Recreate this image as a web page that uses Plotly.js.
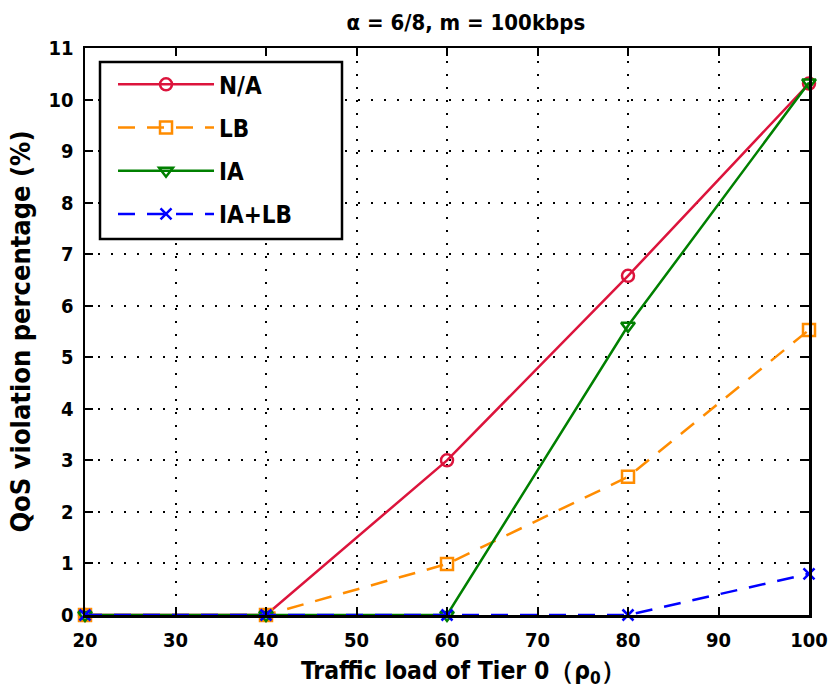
<!DOCTYPE html>
<html>
<head>
<meta charset="utf-8">
<script src="https://cdn.plot.ly/plotly-3.0.1.min.js"></script>
<style>html,body{margin:0;padding:0;background:#fff;}#chart{width:839px;height:696px;}</style>
</head>
<body>
<div id="chart"></div>
<script>
const load = [20, 40, 60, 80, 100];
const seriesNames = ["N/A", "LB", "IA", "IA+LB"];
const valNA = [0, 0, 3.0, 6.58, 10.31];
const valLB = [0, 0, 0.99, 2.68, 5.53];
const valIA = [0, 0, 0, 5.61, 10.33];
const valIALB = [0, 0, 0, 0, 0.80];
const xTicks = [20, 30, 40, 50, 60, 70, 80, 90, 100];
const yTicks = [0, 1, 2, 3, 4, 5, 6, 7, 8, 9, 10, 11];

const FONT = '"DejaVu Sans Condensed", "Liberation Sans Narrow", "Liberation Sans", Arial, sans-serif';
const styles = [
  {color: 'rgb(220,20,60)', dash: 'solid', symbol: 'circle-open', size: 12},
  {color: 'rgb(255,140,0)', dash: '17px,12px', symbol: 'square-open', size: 12},
  {color: 'rgb(0,128,0)', dash: 'solid', symbol: 'triangle-down-open', size: 12},
  {color: 'rgb(0,0,255)', dash: '17px,12px', symbol: 'x-thin-open', size: 11}
];
const vals = [valNA, valLB, valIA, valIALB];
const traces = vals.map((v, i) => ({
  x: load, y: v, name: seriesNames[i], type: 'scatter', mode: 'lines+markers',
  legendgroup: 'g' + i,
  line: {color: styles[i].color, dash: styles[i].dash, width: 2.5},
  marker: {symbol: styles[i].symbol, size: styles[i].size, color: styles[i].color,
           line: {color: styles[i].color, width: 2.5}},
  cliponaxis: false
}));

const axisCommon = {
  showline: true, linecolor: 'black', linewidth: 2.5, mirror: 'ticks',
  ticks: 'inside', ticklen: 8, tickwidth: 2, tickcolor: 'black',
  showgrid: true, gridcolor: 'black', griddash: '2px,11px', gridwidth: 2,
  zeroline: false, ticklabelstandoff: 5,
  tickfont: {family: FONT, size: 20, color: 'black', weight: 'bold'}
};

const layout = {
  width: 839, height: 696,
  margin: {l: 85, r: 30, t: 48, b: 81},
  paper_bgcolor: 'white', plot_bgcolor: 'white',
  title: {text: '<b>α = 6/8, m = 100kbps</b>', x: 0.526, xref: 'paper', xanchor: 'center',
          y: 0.968, yanchor: 'middle',
          font: {family: FONT, size: 22, color: 'black'}},
  xaxis: Object.assign({}, axisCommon, {
    range: [20, 100], tickvals: xTicks, ticktext: xTicks.map(String)
  }),
  yaxis: Object.assign({}, axisCommon, {
    range: [0, 11], tickvals: yTicks, ticktext: yTicks.map(String),
    title: {text: '<b>QoS violation percentage (%)</b>', standoff: 10,
            font: {family: FONT, size: 27, color: 'black'}}
  }),
  annotations: [{
    text: '<b>Traffic load of Tier 0（ρ<sub>0</sub>）</b>', xref: 'paper', yref: 'paper',
    x: 0.523, y: -0.1, xanchor: 'center', yanchor: 'middle', showarrow: false,
    font: {family: FONT, size: 24.5, color: 'black'}
  }],
  shapes: [{
    type: 'rect', xref: 'paper', yref: 'paper', layer: 'above',
    x0: (100 - 85) / 724, x1: (342 - 85) / 724,
    y0: (615 - 239) / 567, y1: (615 - 62) / 567,
    fillcolor: 'white', line: {color: 'black', width: 2.5}
  }],
  showlegend: true,
  legend: {
    x: 0.0387, y: 0.975, xanchor: 'left', yanchor: 'top',
    bgcolor: 'rgba(0,0,0,0)', borderwidth: 0,
    font: {family: FONT, size: 24, color: 'black', weight: 'bold'},
    itemwidth: 96, tracegroupgap: 9, traceorder: 'grouped'
  }
};

Plotly.newPlot('chart', traces, layout, {displayModeBar: false, staticPlot: true});
</script>
</body>
</html>
